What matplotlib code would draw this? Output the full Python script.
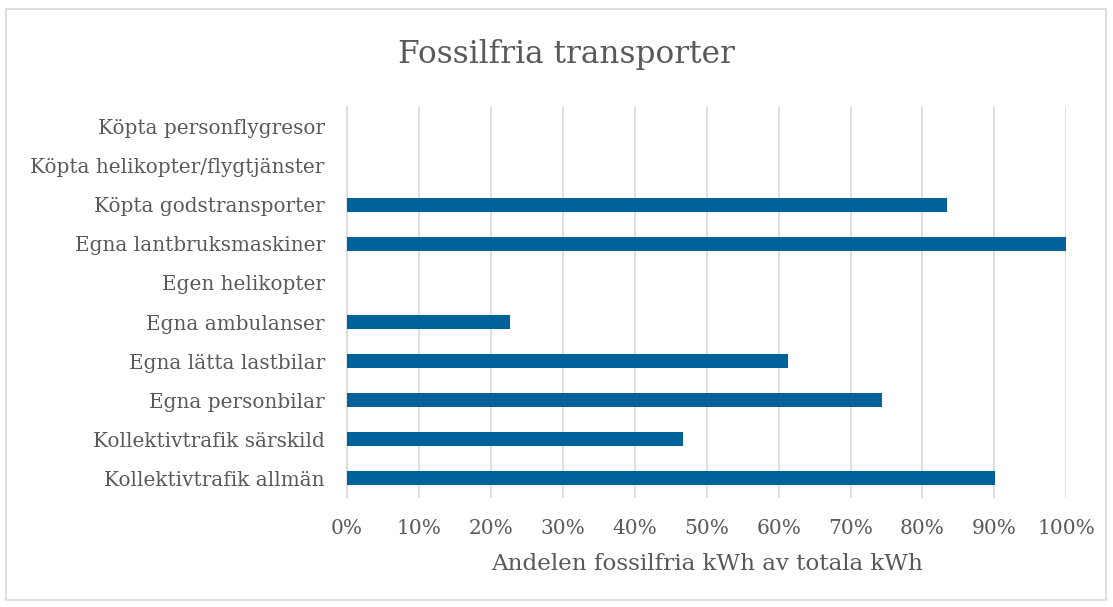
import matplotlib
matplotlib.use("Agg")
import matplotlib.pyplot as plt
from matplotlib.ticker import FuncFormatter
from matplotlib.patches import Rectangle

categories = [
    "Kollektivtrafik allmän",
    "Kollektivtrafik särskild",
    "Egna personbilar",
    "Egna lätta lastbilar",
    "Egna ambulanser",
    "Egen helikopter",
    "Egna lantbruksmaskiner",
    "Köpta godstransporter",
    "Köpta helikopter/flygtjänster",
    "Köpta personflygresor",
]
values = [0.901, 0.467, 0.744, 0.613, 0.226, 0.0, 1.0, 0.834, 0.0, 0.0]
xticks = [i / 10 for i in range(11)]

plt.rcParams['font.family'] = ['DejaVu Serif']
text_color = '#595959'

fig = plt.figure(figsize=(11.13, 6.07), dpi=100)
ax = fig.add_axes([0.3118, 0.1796, 0.6463, 0.6441])

ax.barh(range(len(categories)), values, height=0.36, color='#006298', zorder=3)
ax.set_yticks(range(len(categories)))
ax.set_yticklabels(categories, fontsize=14.4, color=text_color)
ax.set_ylim(-0.5, len(categories) - 0.5)
ax.set_xlim(0, 1)
ax.set_xticks(xticks)
ax.xaxis.set_major_formatter(FuncFormatter(lambda v, p: f"{v*100:.0f}%"))
ax.tick_params(axis='x', labelsize=14.5, labelcolor=text_color, length=0, pad=15)
ax.tick_params(axis='y', length=0, pad=16)
ax.grid(axis='x', color='#d9d9d9', linewidth=1.2, zorder=0)
for s in ['top', 'right', 'bottom']:
    ax.spines[s].set_visible(False)
ax.spines['left'].set_color('#d9d9d9')
ax.spines['left'].set_linewidth(1.2)

ax.set_xlabel("Andelen fossilfria kWh av totala kWh", fontsize=16.6, color=text_color, labelpad=11)
fig.text(566 / 1113, 1 - 55 / 607, "Fossilfria transporter", ha='center', va='center', fontsize=22.5, color=text_color)

fig.patches.append(Rectangle((6 / 1113, 7 / 607), 1100 / 1113, 591 / 607, transform=fig.transFigure,
                             fill=False, edgecolor='#d9d9d9', linewidth=1.2))

fig.savefig("out.png", dpi=100)
